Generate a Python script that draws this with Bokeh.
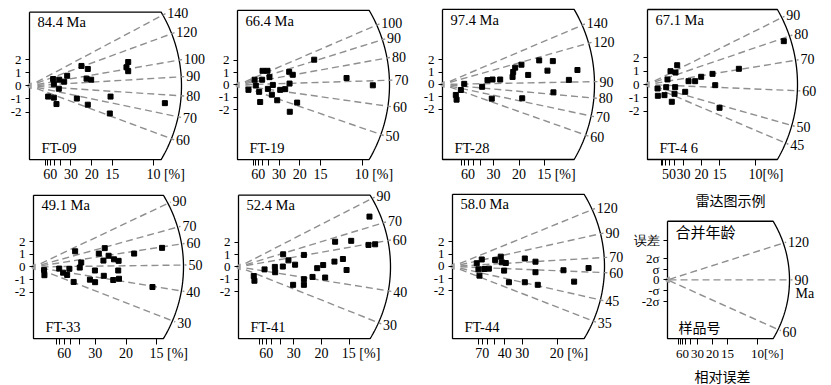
import math
import numpy as np
from bokeh.plotting import figure
from bokeh.layouts import column, row
from bokeh.models import FixedTicker, Range1d, CustomJSTickFormatter, Title
from bokeh.embed import file_html
from bokeh.resources import INLINE
from bokeh.core.properties import value

SERIF = "Liberation Serif"
CJK = "Noto Sans CJK SC"

# ---------------- data (radial-plot coordinates: precision = 100/rel.err%, standardised estimate) ----
samples = ["FT-09", "FT-19", "FT-28", "FT-4 6", "FT-33", "FT-41", "FT-44"]
central_ages = ["84.4 Ma", "66.4 Ma", "97.4 Ma", "67.1 Ma", "49.1 Ma", "52.4 Ma", "58.0 Ma"]

ft09_x = [4.18, 4.69, 7.94, 7.80, 7.94, 1.90, 2.39, 2.79, 3.03, 4.59, 4.96, 1.96, 2.36, 1.50, 1.96, 2.17, 3.81, 4.69, 6.52, 6.46, 10.89]
ft09_y = [1.52, 1.29, 1.82, 1.42, 1.12, 0.52, 0.47, 0.32, 0.77, 0.55, 0.47, 0.12, -0.22, -0.82, -0.90, -1.39, -0.97, -1.44, -0.82, -2.11, -1.32]

ft19_x = [6.16, 8.76, 10.87, 4.15, 4.44, 4.18, 2.01, 2.41, 2.57, 1.37, 1.98, 0.88, 1.47, 1.74, 1.82, 2.44, 2.76, 2.84, 3.19, 3.43, 3.83, 4.79, 4.20]
ft19_y = [2.04, 0.56, -0.03, 1.06, 0.82, 0.11, 1.14, 1.14, 0.63, 0.42, 0.42, -0.40, -0.05, -0.56, -1.38, -0.32, -0.79, 0.00, -1.24, -0.40, -0.34, -1.43, -2.17]

ft28_x = [6.32, 7.21, 5.16, 4.75, 4.62, 4.58, 6.86, 5.60, 8.82, 8.26, 3.77, 3.27, 2.94, 2.59, 1.42, 1.20, 0.87, 0.92, 3.22, 5.21, 7.25]
ft28_y = [1.95, 1.89, 1.60, 1.36, 1.01, 0.61, 1.12, 0.77, 1.17, 0.37, 0.40, 0.40, 0.35, -0.19, 0.05, -0.45, -0.85, -1.23, -1.15, -1.12, -0.64]

ft46_x = [12.62, 8.46, 6.02, 6.27, 4.97, 4.41, 3.80, 2.75, 2.59, 2.13, 1.85, 0.93, 0.96, 1.73, 1.57, 2.56, 2.50, 2.25, 3.49, 6.67]
ft46_y = [3.26, 1.18, 0.80, -0.05, 0.58, 0.25, 0.25, 1.45, 0.90, 1.00, 0.38, -0.30, -0.85, -0.20, -0.80, -0.20, -0.70, -1.30, -0.55, -1.75]

ft33_x = [6.95, 5.44, 6.43, 3.85, 3.53, 4.06, 3.78, 4.35, 4.60, 2.25, 2.58, 2.50, 3.32, 3.80, 4.58, 4.31, 4.62, 3.05, 3.33, 2.17, 1.94, 1.82, 1.60, 1.39, 0.57, 0.59]
ft33_y = [1.50, 1.05, -1.58, 1.48, 1.05, 0.88, 0.50, 0.60, 0.48, 1.23, 0.35, -0.05, -0.28, -0.70, -0.28, -1.03, -0.93, -1.00, -1.20, -1.18, -0.15, -0.63, -0.45, -0.13, -0.25, -0.65]

ft41_x = [7.89, 5.82, 6.79, 7.83, 8.23, 2.69, 3.94, 3.01, 3.41, 2.67, 2.19, 1.57, 2.21, 0.92, 0.96, 3.94, 3.29, 3.94, 4.46, 4.74, 5.10, 5.22, 5.78, 6.29, 6.51]
ft41_y = [4.07, 2.04, 2.11, 1.78, 1.83, 1.02, 0.97, 0.53, 0.18, 0.03, 0.00, -0.20, -0.43, -0.74, -1.12, -0.99, -1.45, -1.45, -0.81, -0.10, 0.15, -0.86, 0.43, 0.64, -0.25]

ft44_x = [1.16, 1.40, 1.24, 1.29, 1.52, 1.74, 2.04, 2.31, 2.36, 2.55, 2.47, 2.70, 3.46, 3.46, 3.97, 3.97, 4.08, 5.31, 5.82, 6.51]
ft44_y = [0.26, 0.57, -0.23, -0.75, -0.21, -0.18, 0.52, 0.80, 0.34, 0.28, -0.34, -1.29, 0.65, -1.29, 0.39, -0.47, -1.50, -0.31, -1.24, -0.13]

points_x = [ft09_x, ft19_x, ft28_x, ft46_x, ft33_x, ft41_x, ft44_x]
points_y = [ft09_y, ft19_y, ft28_y, ft46_y, ft33_y, ft41_y, ft44_y]

# age scale (Ma) written on the arc of each panel
age_ticks = [
    [140, 120, 100, 90, 80, 70, 60],
    [100, 90, 80, 70, 60, 50],
    [140, 120, 90, 80, 70, 60],
    [90, 80, 70, 60, 50, 45],
    [90, 70, 60, 50, 40, 30],
    [90, 70, 60, 40, 30],
    [120, 90, 70, 60, 45, 35],
]
ref_ages = [85.1, 68.1, 88.2, 61.9, 49.2, 48.5, 63.9]  # age of the horizontal radius
age_gain = [1.10, 1.14, 0.93, 1.33, 0.82, 0.88, 0.68]

# relative-error axis: tick values and labelled values (%)
err_ticks = [
    [80, 70, 60, 50, 40, 30, 20, 15, 10],
    [80, 70, 60, 50, 40, 30, 20, 15, 10],
    [80, 70, 60, 50, 40, 30, 20, 15],
    [80, 70, 60, 50, 40, 30, 20, 15, 10],
    [80, 70, 60, 50, 40, 30, 20, 15],
    [80, 70, 60, 50, 40, 30, 20, 15],
    [80, 70, 60, 50, 40, 30, 20],
]
err_labels = [
    [60, 30, 20, 15, 10],
    [60, 30, 20, 15, 10],
    [60, 30, 20, 15],
    [50, 30, 20, 15, 10],
    [60, 30, 20, 15],
    [60, 30, 20, 15],
    [70, 40, 30, 20],
]
pct_suffix = [" [%]", " [%]", " [%]", "[%]", " [%]", " [%]", " [%]"]

# legend panel
legend_ages = [120, 90, 60]
legend_err_ticks = [80, 70, 60, 50, 40, 30, 20, 15, 10]
legend_err_labels = [60, 30, 20, 15, 10]
legend_y_labels = ["-2\u03c3", "-\u03c3", "0", "\u03c3", "2\u03c3", "误差"]

# ---------------- layout (page pixels) ----------------
layout = [
    dict(x0=0, x1=205, y0=0, y1=190, Lx=29, Oy=88, h=76, R=152, kx=12.43, ky=13.5),
    dict(x0=205, x1=418, y0=0, y1=190, Lx=237, Oy=86, h=76, R=152, kx=12.45, ky=12.6),
    dict(x0=418, x1=615, y0=0, y1=190, Lx=442, Oy=85, h=76, R=152, kx=15.3, ky=12.5),
    dict(x0=615, x1=831, y0=0, y1=190, Lx=647, Oy=84, h=75, R=150, kx=10.8, ky=13.3),
    dict(x0=0, x1=205, y0=190, y1=385, Lx=33, Oy=270, h=75, R=150, kx=18.5, ky=13.3),
    dict(x0=205, x1=415, y0=190, y1=385, Lx=238, Oy=271, h=76, R=152, kx=16.6, ky=13.1),
    dict(x0=415, x1=628, y0=190, y1=385, Lx=452, Oy=270, h=76, R=152, kx=20.9, ky=12.9),
]
legend_layout = dict(x0=628, x1=831, y0=190, y1=385, Lx=667, Oy=283, h=61, R=122, kx=9.0, ky=11.2)
legend_gain = 1.15
legend_ref_age = 90

LINE_GREY = "#8f8f8f"
PAD = {" [%]": "\u2007\u2007\u2007\u2009", "[%]": "\u2007\u2007\u2007"}


def base_panel(L, err_t, err_l, suffix, ytick_vals=None, ytick_labs=None, xfont="14px"):
    W = L["x1"] - L["x0"]
    H = L["y1"] - L["y0"]
    kx, ky, h = L["kx"], L["ky"], L["h"]
    mbl = L["Lx"] - 2 - L["x0"]
    mbb = L["y1"] - (L["Oy"] + h + 2)
    FW = W - mbl
    FH = H - mbb
    xs = -2.0 / kx
    ys = -(h + 2.0) / ky
    p = figure(width=W, height=H, output_backend="svg", toolbar_location=None,
               x_range=Range1d(xs, xs + FW / kx), y_range=Range1d(ys, ys + FH / ky),
               min_border_left=mbl, min_border_right=0, min_border_top=0, min_border_bottom=mbb,
               outline_line_color=None, background_fill_color="white", border_fill_color="white")
    p.grid.visible = False

    ya = p.yaxis[0]
    if ytick_vals is None:
        ytick_vals = [-2, -1, 0, 1, 2]
        ytick_labs = ["-2", "-1", "0", "1", "2"]
    ya.ticker = FixedTicker(ticks=ytick_vals)
    ya.formatter = CustomJSTickFormatter(
        args=dict(vals=ytick_vals, labs=ytick_labs),
        code="const i = vals.findIndex(v => Math.abs(v - tick) < 1e-6); return i < 0 ? '' : labs[i];")
    ya.axis_line_color = None
    ya.major_tick_out = 2
    ya.major_tick_in = 2
    ya.minor_tick_line_color = None
    ya.major_label_standoff = 4
    ya.major_label_text_font = SERIF
    ya.major_label_text_font_size = "13px"
    ya.major_label_text_color = "black"
    ya.major_tick_line_color = "black"

    xa = p.xaxis[0]
    xa.ticker = FixedTicker(ticks=[100.0 / e for e in err_t])
    xa.formatter = CustomJSTickFormatter(
        args=dict(labs=err_l, last=err_l[-1], suffix=suffix, pad=PAD[suffix]),
        code="const q = Math.round(100 / tick); if (!labs.includes(q)) return '';"
             " return q == last ? pad + q + suffix : String(q);")
    xa.axis_line_color = None
    xa.major_tick_out = 4
    xa.major_tick_in = 2
    xa.minor_tick_line_color = None
    xa.major_label_standoff = 1
    xa.major_label_text_font = SERIF
    xa.major_label_text_font_size = xfont
    xa.major_label_text_color = "black"
    xa.major_tick_line_color = "black"

    # outline: top edge, arc, bottom edge, left edge
    R = L["R"]
    tc = math.asin(h / R)
    ang = np.linspace(tc, -tc, 80)
    bx = np.concatenate([[0.0], R * np.cos(ang) / kx, [0.0, 0.0]])
    by = np.concatenate([[h / ky], R * np.sin(ang) / ky, [-h / ky, h / ky]])
    p.line(bx, by, line_color="black", line_width=1.3)
    return p


def age_rays(p, L, ages, t_ref, gain, r0=8.0):
    kx, ky, R = L["kx"], L["ky"], L["R"]
    th = np.arctan(gain * np.log(np.array(ages, dtype=float) / t_ref))
    c, s = np.cos(th), np.sin(th)
    p.segment(x0=r0 * c / kx, y0=r0 * s / ky, x1=(R + 3) * c / kx, y1=(R + 3) * s / ky,
              line_color=LINE_GREY, line_width=1.4, line_dash="7 4")
    p.text(x=(R + 5) * c / kx, y=(R + 5) * s / ky, text=[str(a) for a in ages],
           text_font=value(SERIF), text_font_size="14px", text_align="left",
           text_baseline="middle", text_color="black")
    p.scatter([0], [0], marker="triangle", angle=math.pi / 2, size=6,
              fill_color="#a0a0a0", line_color="#a0a0a0")


def put_text(p, L, dx, dy, text, font, size, align="left"):
    p.text(x=[dx / L["kx"]], y=[dy / L["ky"]], text=[text], text_font=value(font),
           text_font_size=size, text_align=align, text_baseline="middle", text_color="black")


panels = []
for i in range(7):
    L = layout[i]
    p = base_panel(L, err_ticks[i], err_labels[i], pct_suffix[i])
    age_rays(p, L, age_ticks[i], ref_ages[i], age_gain[i])
    p.scatter(points_x[i], points_y[i], marker="square", size=5,
              fill_color="black", line_color="black")
    h = L["h"]
    put_text(p, L, 8, h - 10.5, central_ages[i], SERIF, "14.5px")
    put_text(p, L, 12, -(h - 12), samples[i], SERIF, "14.5px")
    panels.append(p)

# ---------------- legend panel ----------------
LL = legend_layout
pl = base_panel(LL, legend_err_ticks, legend_err_labels, "[%]",
                ytick_vals=[-2, -1, 0, 1, 2, 41.0 / LL["ky"]], ytick_labs=legend_y_labels,
                xfont="13px")
age_rays(pl, LL, legend_ages, legend_ref_age, legend_gain, r0=2.0)
put_text(pl, LL, 63, 83, "雷达图示例", CJK, "14px", "center")
put_text(pl, LL, 8, 50, "合并年龄", CJK, "15px")
put_text(pl, LL, 11, -49, "样品号", CJK, "14px")
put_text(pl, LL, 128, -14, "Ma", SERIF, "14px")
pl.add_layout(Title(text="相对误差", align="left", offset=29, standoff=0,
                    text_font=CJK, text_font_size="14px", text_font_style="normal",
                    text_line_height=0.9, text_color="black"), "below")
panels.append(pl)

page = column(row(*panels[:4]), row(*panels[4:]))
open("out.html", "w").write(file_html(page, INLINE))
